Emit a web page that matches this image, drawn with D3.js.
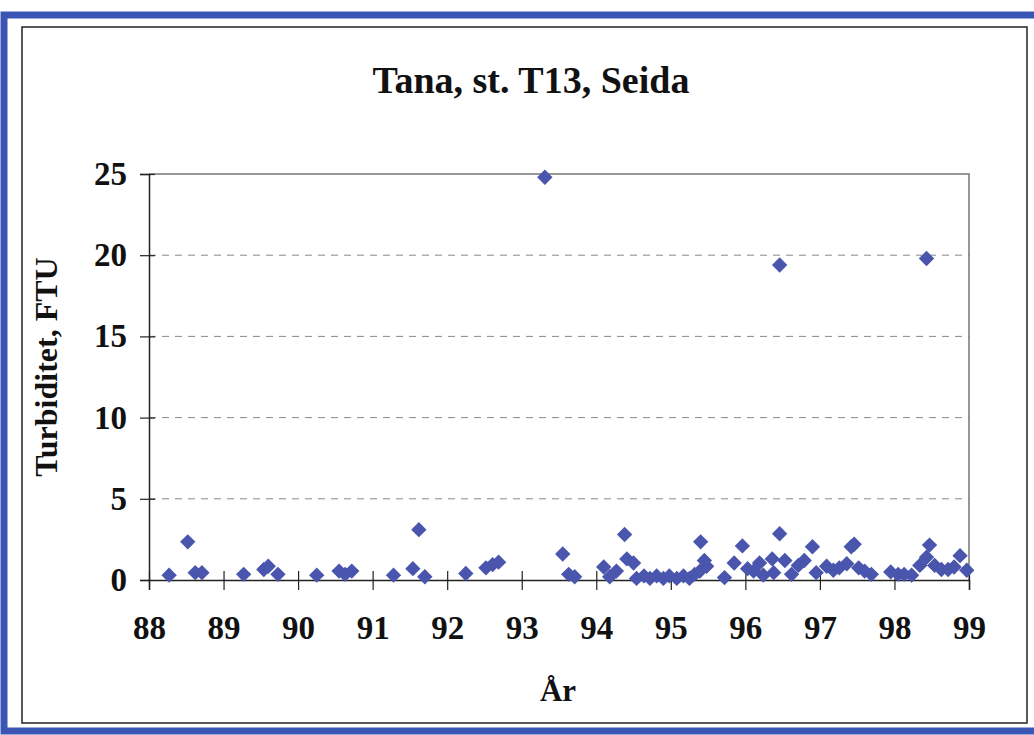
<!DOCTYPE html>
<html><head><meta charset="utf-8">
<script src="https://cdn.jsdelivr.net/npm/d3@7"></script>
<style>html,body{margin:0;padding:0;background:#fff;}svg{display:block;}</style>
</head><body>
<svg id="c" width="1034" height="735"></svg>
<script>
const title = "Tana, st. T13, Seida";
const xLabel = "År";
const yLabel = "Turbiditet, FTU";
const xTicks = [88,89,90,91,92,93,94,95,96,97,98,99];
const yTicks = [0,5,10,15,20,25];
const years = [88.27,88.52,88.62,88.71,89.27,89.54,89.60,89.73,90.25,90.55,90.63,90.72,91.28,91.54,91.62,91.70,92.25,92.52,92.61,92.69,93.31,93.55,93.63,93.71,94.10,94.18,94.27,94.38,94.41,94.50,94.54,94.64,94.72,94.81,94.90,94.98,95.08,95.17,95.25,95.32,95.39,95.40,95.45,95.48,95.72,95.85,95.96,96.03,96.11,96.19,96.24,96.36,96.38,96.46,96.46,96.53,96.62,96.71,96.79,96.90,96.95,97.09,97.18,97.26,97.36,97.42,97.46,97.52,97.60,97.69,97.95,98.05,98.13,98.23,98.34,98.43,98.47,98.43,98.54,98.63,98.72,98.80,98.88,98.97];
const values = [0.3,2.35,0.45,0.45,0.35,0.65,0.85,0.35,0.3,0.55,0.35,0.55,0.3,0.7,3.1,0.2,0.4,0.75,0.95,1.1,24.8,1.6,0.35,0.2,0.8,0.2,0.55,2.8,1.3,1.05,0.1,0.25,0.1,0.25,0.1,0.25,0.1,0.25,0.1,0.35,0.55,2.35,1.2,0.85,0.15,1.05,2.1,0.7,0.55,1.05,0.3,1.3,0.45,2.85,19.4,1.2,0.35,0.9,1.2,2.05,0.45,0.85,0.6,0.75,1.0,2.05,2.2,0.75,0.55,0.35,0.5,0.35,0.35,0.3,0.9,1.4,2.15,19.8,0.9,0.65,0.65,0.8,1.5,0.6];

const svg = d3.select("#c");
const serif = "'Liberation Serif','Times New Roman',serif";

// outer blue frame and inner black frame
svg.append("rect").attr("x",4).attr("y",15).attr("width",1040).attr("height",716)
  .attr("fill","none").attr("stroke","#3b55b5").attr("stroke-width",7);
svg.append("rect").attr("x",22).attr("y",27).attr("width",1005).attr("height",696)
  .attr("fill","#fff").attr("stroke","#222").attr("stroke-width",1.5);

const L=149,R=969,T=174,B=580;
const x = d3.scaleLinear().domain([88,99]).range([L,R]);
const y = d3.scaleLinear().domain([0,25]).range([B,T]);

// gridlines
svg.append("g").selectAll("line").data(yTicks.filter(v=>v>0&&v<25)).join("line")
  .attr("x1",L).attr("x2",R).attr("y1",d=>y(d)).attr("y2",d=>y(d))
  .attr("stroke","#888").attr("stroke-width",1).attr("stroke-dasharray","7,6");
// plot border top/right
svg.append("path").attr("d",`M${L},${T}H${R}V${B}`).attr("fill","none").attr("stroke","#777").attr("stroke-width",1.5);

// axes
const yAxis = d3.axisLeft(y).tickValues(yTicks).tickSize(9).tickPadding(13).tickFormat(d3.format("d"));
const gy = svg.append("g").attr("transform",`translate(${L},0)`).call(yAxis);
gy.select(".domain").attr("stroke","#222").attr("stroke-width",1.5);
gy.selectAll(".tick line").attr("stroke","#222").attr("stroke-width",1.2).attr("x2",-9).attr("x1",d=>d===0?0:6);
gy.selectAll("text").attr("font-family",serif).attr("font-weight","bold").attr("font-size",33).attr("fill","#111");

const xAxis = d3.axisBottom(x).tickValues(xTicks).tickSize(10).tickPadding(26).tickFormat(d3.format("d"));
const gx = svg.append("g").attr("transform",`translate(0,${B})`).call(xAxis);
gx.select(".domain").attr("stroke","#222").attr("stroke-width",1.5);
gx.selectAll(".tick line").attr("stroke","#222").attr("stroke-width",1.2).attr("y1",-9).attr("y2",10);
gx.selectAll("text").attr("font-family",serif).attr("font-weight","bold").attr("font-size",33).attr("fill","#111");

// points
const diamond = d3.symbol().type(d3.symbolSquare).size(118);
svg.append("g").selectAll("path").data(years.map((yr,i)=>({yr,v:values[i]}))).join("path")
  .attr("d",diamond)
  .attr("transform",d=>`translate(${x(d.yr)},${y(d.v)}) rotate(45)`)
  .attr("fill","#4a56ad");

// titles
svg.append("text").attr("x",531).attr("y",93).attr("text-anchor","middle")
  .attr("font-family",serif).attr("font-weight","bold").attr("font-size",38).attr("fill","#111").text(title);
svg.append("text").attr("x",558).attr("y",701).attr("text-anchor","middle")
  .attr("font-family",serif).attr("font-weight","bold").attr("font-size",31).attr("fill","#111").text(xLabel);
svg.append("text").attr("transform","translate(57,367) rotate(-90)").attr("text-anchor","middle")
  .attr("font-family",serif).attr("font-weight","bold").attr("font-size",32).attr("fill","#111").text(yLabel);
</script>
</body></html>
